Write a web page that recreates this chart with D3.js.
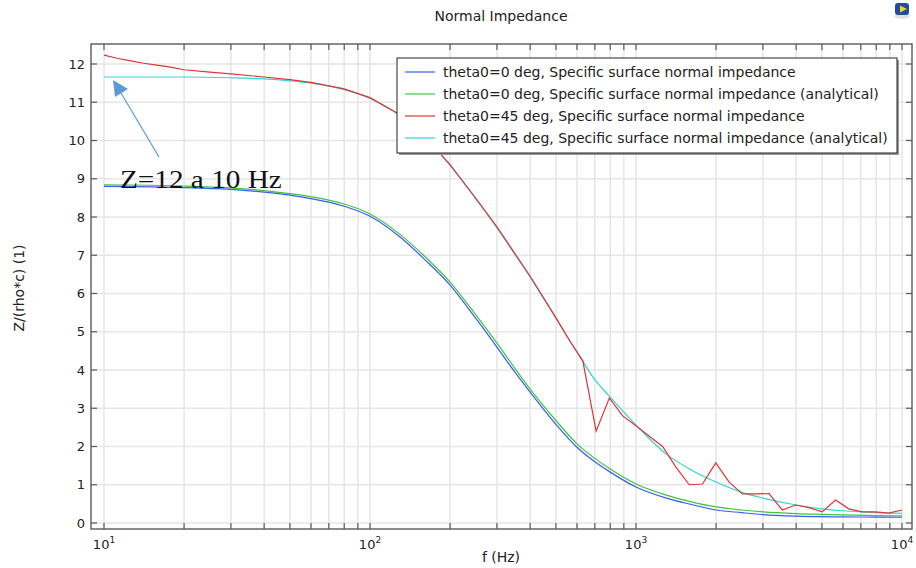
<!DOCTYPE html>
<html>
<head>
<meta charset="utf-8">
<script src="https://cdn.jsdelivr.net/npm/d3@7"></script>
<style>
  html, body { margin: 0; padding: 0; background: #fff; }
  svg { display: block; }
  text { font-family: "DejaVu Sans", sans-serif; fill: #222; }
</style>
</head>
<body>
<svg id="chart" width="916" height="568"></svg>
<script>
// ---------- DATA ----------
const title = "Normal Impedance";
const xLabel = "f (Hz)";
const yLabel = "Z/(rho*c) (1)";
const annotationText = "Z=12 a 10 Hz";

const seriesNames = [
  "theta0=0 deg, Specific surface normal impedance",
  "theta0=0 deg, Specific surface normal impedance (analytical)",
  "theta0=45 deg, Specific surface normal impedance",
  "theta0=45 deg, Specific surface normal impedance (analytical)"
];

const freqSmooth = [10,15,20,30,40,50,60,80,100,130,160,200,250,300,350,400,500,600,700,800,1000,1300,1600,2000,2500,3000,4000,5000,6000,8000,10000];

const blue0 = [8.80,8.79,8.77,8.72,8.65,8.57,8.48,8.28,8.02,7.47,6.90,6.22,5.35,4.60,3.95,3.42,2.58,1.98,1.60,1.33,0.94,0.65,0.49,0.34,0.27,0.22,0.18,0.165,0.16,0.155,0.15];
const green0 = [8.84,8.83,8.81,8.76,8.69,8.61,8.53,8.34,8.08,7.54,6.98,6.30,5.44,4.70,4.05,3.50,2.68,2.07,1.69,1.41,1.02,0.73,0.56,0.42,0.34,0.29,0.245,0.225,0.21,0.195,0.185];
const cyan45 = [11.66,11.66,11.66,11.64,11.61,11.56,11.50,11.33,11.10,10.65,10.10,9.35,8.47,7.72,7.03,6.43,5.35,4.47,3.75,3.29,2.56,1.80,1.40,1.07,0.80,0.65,0.47,0.37,0.32,0.27,0.25];

const freqRed = [10,11.2,12.6,14.1,15.8,17.8,20,25,30,40,50,60,80,100,130,160,200,250,300,350,400,500,562,631,708,794,891,1000,1122,1259,1413,1585,1778,1995,2239,2512,2818,3162,3548,3981,4467,5012,5623,6310,7079,7943,8913,10000];
const red45 = [12.23,12.15,12.08,12.02,11.97,11.92,11.85,11.79,11.74,11.66,11.59,11.52,11.35,11.12,10.67,10.12,9.37,8.49,7.74,7.05,6.45,5.37,4.77,4.24,2.40,3.27,2.80,2.54,2.27,2.00,1.46,1.00,1.02,1.57,1.07,0.76,0.76,0.77,0.34,0.47,0.40,0.29,0.60,0.37,0.29,0.29,0.26,0.34];

const xMajorTicks = [10, 100, 1000, 10000];
const xMinorTicks = [20,30,40,50,60,70,80,90,200,300,400,500,600,700,800,900,2000,3000,4000,5000,6000,7000,8000,9000];
const yTicks = [0,1,2,3,4,5,6,7,8,9,10,11,12];
const annotationFreq = 10;
const annotationValue = 11.66;

const colors = ["#3b5cf2", "#3cc63c", "#e03535", "#2fd6d6"];

// ---------- LAYOUT ----------
const svg = d3.select("#chart");
const L = 91, R = 912, T = 44, B = 529;

const x = d3.scaleLog().domain([10, 10000]).range([104, 902]);
const y = d3.scaleLinear().domain([0, 12]).range([523, 64]);

// gridlines
const grid = svg.append("g");
grid.selectAll("line.gx").data(xMajorTicks.concat(xMinorTicks)).join("line")
  .attr("x1", d => x(d)).attr("x2", d => x(d)).attr("y1", T).attr("y2", B)
  .attr("stroke", "#e6e6e6").attr("stroke-width", 1.5);
grid.selectAll("line.gy").data(yTicks).join("line")
  .attr("x1", L).attr("x2", R).attr("y1", d => y(d)).attr("y2", d => y(d))
  .attr("stroke", "#e6e6e6").attr("stroke-width", 1.5);

// clip
svg.append("clipPath").attr("id", "clip").append("rect")
  .attr("x", L).attr("y", T).attr("width", R - L).attr("height", B - T);

const plot = svg.append("g").attr("clip-path", "url(#clip)");
const seriesData = [
  d3.zip(freqSmooth, blue0),
  d3.zip(freqSmooth, green0),
  d3.zip(freqRed, red45),
  d3.zip(freqSmooth, cyan45)
];
// draw order: green under blue, cyan under red
[1, 0, 3, 2].forEach(i => {
  plot.append("path").datum(seriesData[i])
    .attr("d", d3.line().x(d => x(d[0])).y(d => y(d[1])).curve(i === 2 ? d3.curveLinear : d3.curveMonotoneX))
    .attr("fill", "none").attr("stroke", colors[i]).attr("stroke-width", 1.2);
});

// frame
svg.append("rect").attr("x", L).attr("y", T).attr("width", R - L).attr("height", B - T)
  .attr("fill", "none").attr("stroke", "#5a5a5a").attr("stroke-width", 1.4);

// ticks (inward)
const tk = svg.append("g").attr("stroke", "#5a5a5a").attr("stroke-width", 1.2);
const allX = xMajorTicks.concat(xMinorTicks);
tk.selectAll("line.bx").data(allX).join("line")
  .attr("x1", d => x(d)).attr("x2", d => x(d)).attr("y1", B).attr("y2", B - 6);
tk.selectAll("line.tx").data(allX).join("line")
  .attr("x1", d => x(d)).attr("x2", d => x(d)).attr("y1", T).attr("y2", T + 6);
tk.selectAll("line.ly").data(yTicks).join("line")
  .attr("x1", L).attr("x2", L + 6).attr("y1", d => y(d)).attr("y2", d => y(d));
tk.selectAll("line.ry").data(yTicks).join("line")
  .attr("x1", R).attr("x2", R - 6).attr("y1", d => y(d)).attr("y2", d => y(d));

// y tick labels
svg.append("g").selectAll("text").data(yTicks).join("text")
  .attr("x", 85).attr("y", d => y(d)).attr("dy", "0.35em")
  .attr("text-anchor", "end").attr("font-size", 13).text(d => d);

// x tick labels with superscript
const xl = svg.append("g").selectAll("text").data(xMajorTicks).join("text")
  .attr("x", d => x(d)).attr("y", 549).attr("text-anchor", "middle").attr("font-size", 13);
xl.append("tspan").text("10");
xl.append("tspan").attr("dy", -6).attr("font-size", 9).text(d => Math.round(Math.log10(d)));

// axis titles
svg.append("text").attr("x", 501).attr("y", 562).attr("text-anchor", "middle")
  .attr("font-size", 14).text(xLabel);
svg.append("text").attr("transform", "translate(24,288) rotate(-90)")
  .attr("text-anchor", "middle").attr("font-size", 14).text(yLabel);
svg.append("text").attr("x", 501).attr("y", 21).attr("text-anchor", "middle")
  .attr("font-size", 14).text(title);

// icon top right
const icon = svg.append("g").attr("transform", "translate(894,3)");
icon.append("ellipse").attr("cx", 8).attr("cy", 13).attr("rx", 8).attr("ry", 3).attr("fill", "#e2e2e2");
icon.append("rect").attr("x", 1).attr("y", 0).attr("width", 14).attr("height", 12).attr("rx", 3)
  .attr("fill", "#1c4d9e");
icon.append("path").attr("d", "M6,2.5 L13,6 L6,9.5 Z").attr("fill", "#f2d21b");

// legend
const lg = svg.append("g");
const LX = 397, LY = 58, LW = 500, LH = 95;
lg.append("rect").attr("x", LX + 2).attr("y", LY + 2).attr("width", LW).attr("height", LH).attr("fill", "#999");
lg.append("rect").attr("x", LX).attr("y", LY).attr("width", LW).attr("height", LH)
  .attr("fill", "#fff").attr("stroke", "#222").attr("stroke-width", 1);
seriesNames.forEach((n, i) => {
  const yy = LY + 14 + i * 22;
  lg.append("line").attr("x1", LX + 8).attr("x2", LX + 38).attr("y1", yy).attr("y2", yy)
    .attr("stroke", colors[i]).attr("stroke-width", 1.2);
  lg.append("text").attr("x", LX + 46).attr("y", yy).attr("dy", "0.35em")
    .attr("font-size", 14).text(n);
});

// annotation
const ann = svg.append("g");
const tipX = x(annotationFreq) + 9, tipY = y(annotationValue) + 3;
ann.append("line").attr("x1", 159).attr("y1", 157).attr("x2", tipX + 8).attr("y2", tipY + 13)
  .attr("stroke", "#5b9bd5").attr("stroke-width", 1.2);
ann.append("path")
  .attr("d", `M${tipX},${tipY} L${tipX + 15},${tipY + 9} L${tipX + 2},${tipY + 17} Z`)
  .attr("fill", "#5b9bd5");
ann.append("text").attr("transform", "translate(120,188) scale(1.17,1)")
  .style("font-family", "'Liberation Serif', 'Times New Roman', serif")
  .attr("font-size", 25).style("fill", "#111").text(annotationText);
</script>
</body>
</html>
